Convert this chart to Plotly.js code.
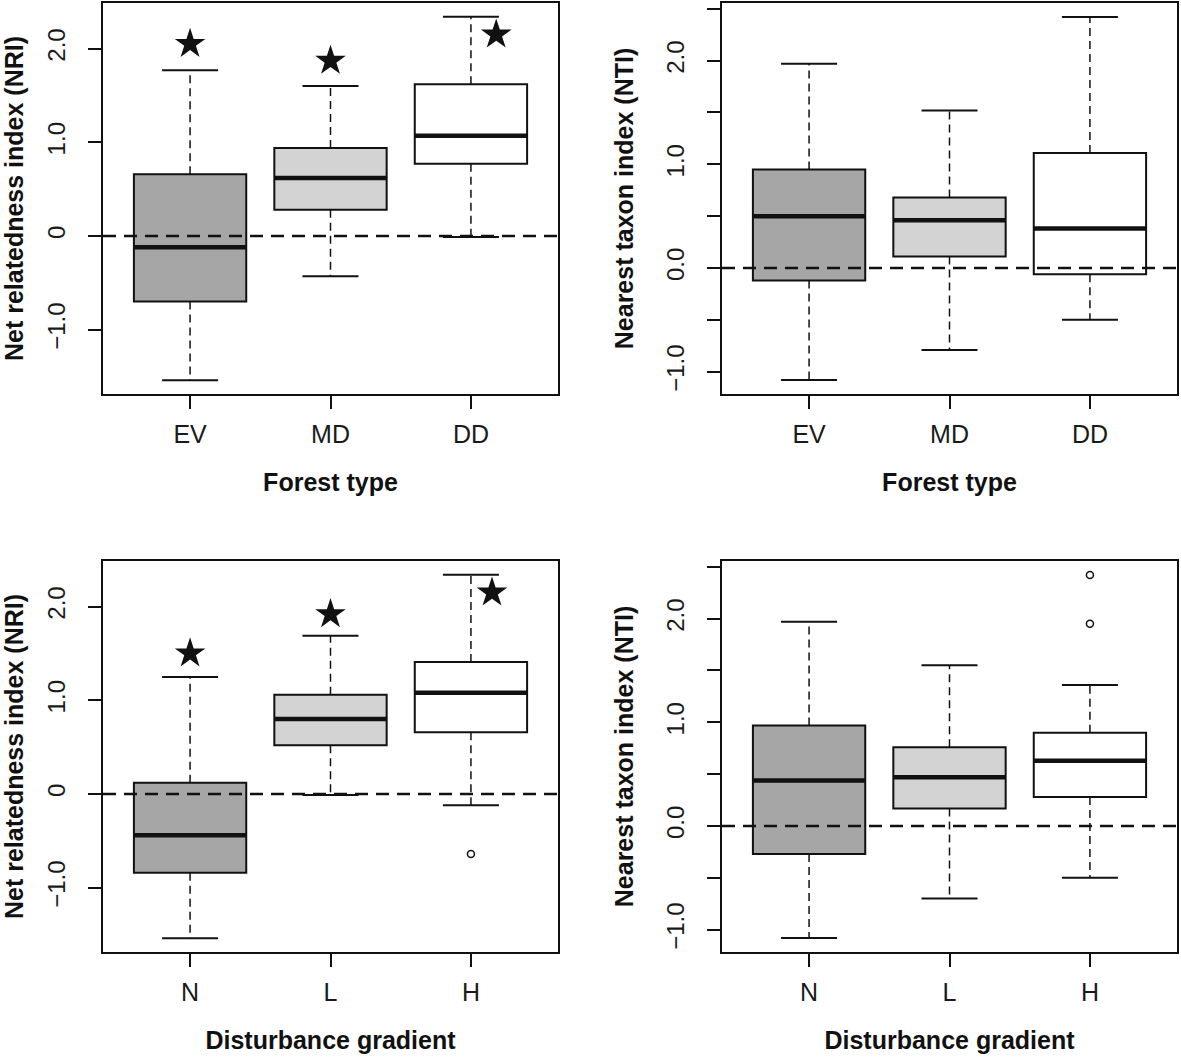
<!DOCTYPE html>
<html><head><meta charset="utf-8">
<script src="https://cdn.plot.ly/plotly-3.0.1.min.js"></script>
<style>html,body{margin:0;padding:0;background:#fff}</style>
</head><body><div id="chart" style="width:1181px;height:1059px"></div>
<script>
// ---- data ----
const forestTypes = ["EV", "MD", "DD"];
const disturbanceLevels = ["N", "L", "H"];
const positions = [1, 2, 3];
const boxColors = ["#a6a6a6", "#d3d3d3", "#ffffff"];

// NRI by forest type
const nriForestLower  = [-1.54, -0.43, -0.01];
const nriForestQ1     = [-0.70,  0.28,  0.77];
const nriForestMedian = [-0.12,  0.62,  1.07];
const nriForestQ3     = [ 0.66,  0.94,  1.62];
const nriForestUpper  = [ 1.77,  1.60,  2.34];
const nriForestStarX  = [1, 2, 3.18];
const nriForestStarY  = [2.05, 1.87, 2.15];

// NTI by forest type
const ntiForestLower  = [-1.08, -0.79, -0.50];
const ntiForestQ1     = [-0.12,  0.11, -0.06];
const ntiForestMedian = [ 0.50,  0.46,  0.38];
const ntiForestQ3     = [ 0.95,  0.68,  1.11];
const ntiForestUpper  = [ 1.97,  1.52,  2.42];

// NRI by disturbance gradient
const nriDistLower  = [-1.54, -0.01, -0.12];
const nriDistQ1     = [-0.84,  0.52,  0.66];
const nriDistMedian = [-0.44,  0.80,  1.08];
const nriDistQ3     = [ 0.12,  1.06,  1.41];
const nriDistUpper  = [ 1.25,  1.69,  2.34];
const nriDistOutlierX = [3];
const nriDistOutlierY = [-0.64];
const nriDistStarX  = [1, 2, 3.15];
const nriDistStarY  = [1.50, 1.92, 2.15];

// NTI by disturbance gradient
const ntiDistLower  = [-1.08, -0.70, -0.50];
const ntiDistQ1     = [-0.27,  0.17,  0.28];
const ntiDistMedian = [ 0.44,  0.47,  0.63];
const ntiDistQ3     = [ 0.97,  0.76,  0.90];
const ntiDistUpper  = [ 1.97,  1.55,  1.36];
const ntiDistOutlierX = [3, 3];
const ntiDistOutlierY = [2.42, 1.95];

// axis ticks
const nriTickVals = [-1, 0, 1, 2];
const nriTickText = ["\u22121.0", "0", "1.0", "2.0"];
const ntiTickVals = [-1, -0.5, 0, 0.5, 1, 1.5, 2, 2.5];
const ntiTickText = ["\u22121.0", "", "0.0", "", "1.0", "", "2.0", ""];
const nriRange = [-1.687, 2.487];
const ntiRange = [-1.215, 2.556];
const xRange = [0.38, 3.62];
const referenceValue = 0;

// ---- drawing ----
const INK = "#111111";
const traces = [];
const shapes = [];

function panel(ax, lower, q1, med, q3, upper, outX, outY, starX, starY) {
  const xa = "x" + ax, ya = "y" + ax;
  // whiskers (dashed)
  const wx = [], wy = [];
  positions.forEach((p, i) => {
    wx.push(p, p, null, p, p, null);
    wy.push(q3[i], upper[i], null, q1[i], lower[i], null);
  });
  traces.push({type: "scatter", mode: "lines", x: wx, y: wy, xaxis: xa, yaxis: ya,
    line: {color: INK, width: 1.5, dash: "8px,5px"}, hoverinfo: "skip", showlegend: false});
  // caps
  traces.push({type: "scatter", mode: "markers", x: positions.concat(positions), y: upper.concat(lower),
    xaxis: xa, yaxis: ya, marker: {symbol: "line-ew", size: 40, line: {color: INK, width: 2}},
    hoverinfo: "skip", showlegend: false});
  // boxes
  positions.forEach((p, i) => {
    traces.push({type: "box", x: [p], q1: [q1[i]], median: [med[i]], q3: [q3[i]],
      lowerfence: [q1[i]], upperfence: [q3[i]], width: 0.8, whiskerwidth: 0,
      fillcolor: boxColors[i], line: {color: INK, width: 2}, boxpoints: false,
      xaxis: xa, yaxis: ya, hoverinfo: "skip", showlegend: false});
  });
  // thick medians
  traces.push({type: "scatter", mode: "markers", x: positions, y: med, xaxis: xa, yaxis: ya,
    marker: {symbol: "line-ew", size: 80, line: {color: INK, width: 4.5}},
    hoverinfo: "skip", showlegend: false});
  if (outX) {
    traces.push({type: "scatter", mode: "markers", x: outX, y: outY, xaxis: xa, yaxis: ya,
      marker: {symbol: "circle-open", size: 7, line: {color: INK, width: 1.5}, color: INK},
      hoverinfo: "skip", showlegend: false});
  }
  if (starX) {
    traces.push({type: "scatter", mode: "markers", x: starX, y: starY, xaxis: xa, yaxis: ya,
      marker: {symbol: "star", size: 23, color: INK, line: {width: 0}},
      hoverinfo: "skip", showlegend: false});
  }
  shapes.push({type: "line", xref: xa + " domain", yref: ya, x0: 0, x1: 1,
    y0: referenceValue, y1: referenceValue, layer: "above",
    line: {color: INK, width: 2.5, dash: "13px,8px"}});
}

panel(1, nriForestLower, nriForestQ1, nriForestMedian, nriForestQ3, nriForestUpper, null, null, nriForestStarX, nriForestStarY);
panel(2, ntiForestLower, ntiForestQ1, ntiForestMedian, ntiForestQ3, ntiForestUpper, null, null, null, null);
panel(3, nriDistLower, nriDistQ1, nriDistMedian, nriDistQ3, nriDistUpper, nriDistOutlierX, nriDistOutlierY, nriDistStarX, nriDistStarY);
panel(4, ntiDistLower, ntiDistQ1, ntiDistMedian, ntiDistQ3, ntiDistUpper, ntiDistOutlierX, ntiDistOutlierY, null, null);

const W = 1181, H = 1059;
const FONT = "Liberation Sans, Arial, sans-serif";
const xTickFont = {family: FONT, size: 25, color: "#1a1a1a"};
const yTickFont = {family: FONT, size: 24, color: "#1a1a1a"};
const titleFont = {family: FONT, size: 25, color: INK};
const colL = [103 / W, 558 / W], colR = [722 / W, 1177 / W];
const rowT = [1 - 394 / H, 1 - 3 / H], rowB = [1 - 952 / H, 1 - 561 / H];

function xAxis(domain, anchor, cats, title) {
  return {domain, anchor, range: xRange, tickmode: "array", tickvals: positions, ticktext: cats,
    ticks: "outside", ticklen: 13, tickwidth: 2, tickcolor: INK, showline: true, mirror: true,
    linewidth: 2, linecolor: INK, showgrid: false, zeroline: false, tickfont: xTickFont,
    ticklabelstandoff: 4, automargin: false, fixedrange: true,
    title: {text: "<b>" + title + "</b>", font: titleFont, standoff: 26}};
}
function yAxis(domain, anchor, range, vals, text, title) {
  return {domain, anchor, range, tickmode: "array", tickvals: vals, ticktext: text, tickangle: -90,
    ticks: "outside", ticklen: 13, tickwidth: 2, tickcolor: INK, showline: true, mirror: true,
    linewidth: 2, linecolor: INK, showgrid: false, zeroline: false, tickfont: yTickFont,
    ticklabelstandoff: 13, automargin: false, fixedrange: true,
    title: {text: "<b>" + title + "</b>", font: titleFont, standoff: 22}};
}

const layout = {
  width: W, height: H, margin: {l: 0, r: 0, t: 0, b: 0},
  paper_bgcolor: "#ffffff", plot_bgcolor: "#ffffff", boxmode: "overlay", showlegend: false,
  xaxis:  xAxis(colL, "y",  forestTypes, "Forest type"),
  yaxis:  yAxis(rowT, "x",  nriRange, nriTickVals, nriTickText, "Net relatedness index (NRI)"),
  xaxis2: xAxis(colR, "y2", forestTypes, "Forest type"),
  yaxis2: yAxis(rowT, "x2", ntiRange, ntiTickVals, ntiTickText, "Nearest taxon index (NTI)"),
  xaxis3: xAxis(colL, "y3", disturbanceLevels, "Disturbance gradient"),
  yaxis3: yAxis(rowB, "x3", nriRange, nriTickVals, nriTickText, "Net relatedness index (NRI)"),
  xaxis4: xAxis(colR, "y4", disturbanceLevels, "Disturbance gradient"),
  yaxis4: yAxis(rowB, "x4", ntiRange, ntiTickVals, ntiTickText, "Nearest taxon index (NTI)"),
  shapes
};

Plotly.newPlot("chart", traces, layout, {staticPlot: true, displayModeBar: false});
</script>
</body></html>
